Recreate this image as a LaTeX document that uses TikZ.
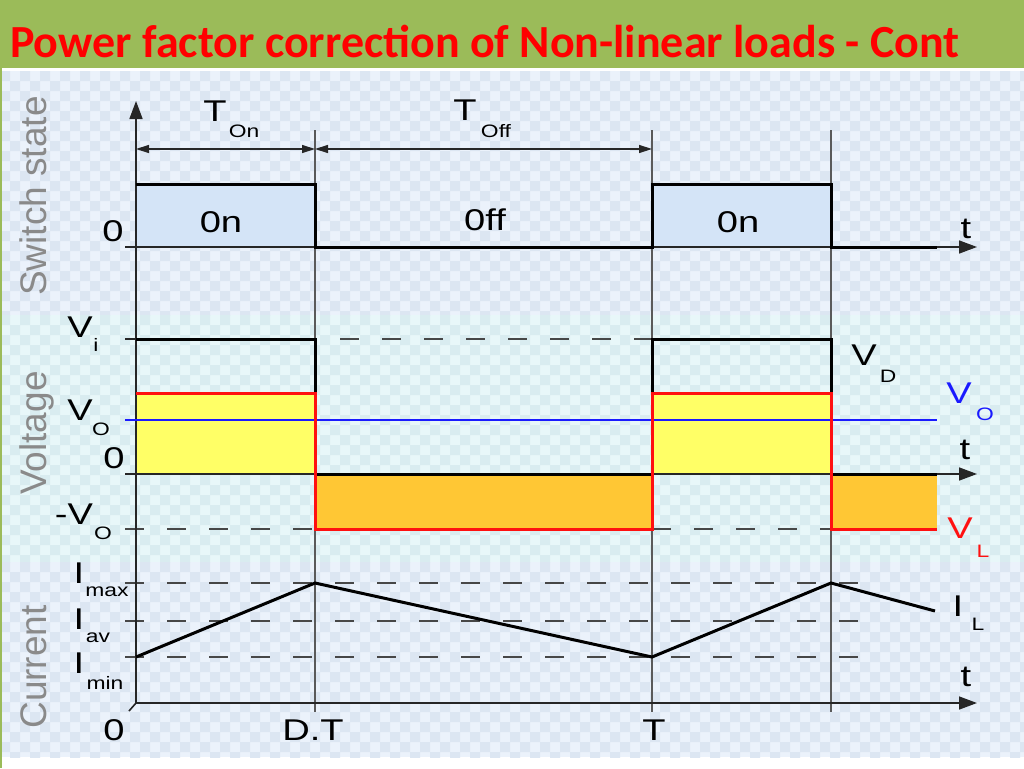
\documentclass[tikz,border=0pt]{standalone}
\usepackage{fontspec}
\setmainfont{Liberation Sans}
\newfontfamily\titlefont{Carlito}
\usetikzlibrary{arrows.meta}
\newcommand{\hstr}[1]{\scalebox{1.27}[1]{#1}}
\definecolor{barGreen}{HTML}{9BBB59}
\definecolor{titleRed}{HTML}{FF0000}
\definecolor{bandA}{HTML}{EBF2FB}
\definecolor{bandAalt}{HTML}{DCE6F2}
\definecolor{bandB}{HTML}{E8F7F9}
\definecolor{bandBalt}{HTML}{D9ECF0}
\definecolor{sideGray}{HTML}{8A8A8A}
\definecolor{onFill}{HTML}{D4E4F7}
\definecolor{yelFill}{HTML}{FFFF66}
\definecolor{orFill}{HTML}{FFC734}
\definecolor{sigRed}{HTML}{FF1010}
\definecolor{sigBlue}{HTML}{1A1AFF}
\definecolor{guideGray}{HTML}{5A5A5A}
\begin{document}
\begin{tikzpicture}[x=1pt,y=-1pt,
  lbl/.style={font=\fontsize{30}{30}\selectfont, inner sep=0pt},
  sublbl/.style={font=\fontsize{18}{18}\selectfont, inner sep=0pt},
  sidelbl/.style={font=\fontsize{37}{37}\selectfont, text=sideGray, rotate=90, anchor=base, inner sep=0pt},
  signal/.style={line width=3pt, black, line join=miter},
  redsig/.style={line width=3pt, sigRed, line join=miter},
  axisln/.style={line width=1.6pt, black!85},
  guideln/.style={line width=1.2pt, guideGray},
  dashln/.style={line width=2pt, black!72, dash pattern=on 19pt off 23pt},
  axtip/.style={-{Triangle[length=18pt,width=13pt]}},
  dimln/.style={line width=1.4pt, black!85, {Triangle[length=13pt,width=8pt]}-{Triangle[length=13pt,width=8pt]}}
]
\useasboundingbox (0,0) rectangle (1024,768);
% backgrounds
\fill[white] (0,0) rectangle (1024,768);
\fill[barGreen] (0,0) rectangle (1024,68);
\fill[barGreen] (0,68) rectangle (2,768);
\fill[bandA] (2,71) rectangle (1024,315);
\fill[bandB] (2,315) rectangle (1024,562);
\fill[bandA] (2,562) rectangle (1024,757);
\begin{scope}
  \clip (2,71) rectangle (1024,315);
  \fill[bandAalt] foreach \j in {0,...,24} { foreach \i in {0,...,51} { ({\i*20+mod(\j,2)*10},{71+\j*10}) rectangle ++(10,10) } };
\end{scope}
\begin{scope}
  \clip (2,315) rectangle (1024,562);
  \fill[bandBalt] foreach \j in {0,...,24} { foreach \i in {0,...,51} { ({\i*20+mod(\j,2)*10},{315+\j*10}) rectangle ++(10,10) } };
\end{scope}
\begin{scope}
  \clip (2,562) rectangle (1024,757);
  \fill[bandAalt] foreach \j in {0,...,19} { foreach \i in {0,...,51} { ({\i*20+mod(\j,2)*10},{562+\j*10}) rectangle ++(10,10) } };
\end{scope}
% title
\node[font=\titlefont\bfseries\fontsize{46}{46}\selectfont, text=titleRed, anchor=base west, inner sep=0pt] (title) at (10,58) {Power factor correction of Non-linear loads - Cont};
% coordinates
\coordinate (g1t) at (315,130); \coordinate (g1b) at (315,712);
\coordinate (g2t) at (652,130); \coordinate (g2b) at (652,712);
\coordinate (g3t) at (831,130); \coordinate (g3b) at (831,712);
\coordinate (orig) at (136,703);
\coordinate (ytip) at (136,101);
% guide lines
\draw[guideln] (g1t) -- (g1b);
\draw[guideln] (g2t) -- (g2b);
\draw[guideln] (g3t) -- (g3b);
% fills
\fill[onFill] (136,184) rectangle (315,247);
\fill[onFill] (652,184) rectangle (831,247);
\fill[yelFill] (136,393) rectangle (315,474);
\fill[yelFill] (652,393) rectangle (831,474);
\fill[orFill] (315,474) rectangle (652,529);
\fill[orFill] (831,474) rectangle (937,529);
% dashed reference lines
\draw[dashln] (340,339) -- (652,339);
\draw[dashln] (125,529) -- (315,529);
\draw[dashln] (652,529) -- (831,529);
\draw[dashln] (125,583) -- (875,583);
\draw[dashln] (125,621) -- (875,621);
\draw[dashln] (125,657) -- (875,657);
% dimension arrows
\coordinate (d0) at (136,149); \coordinate (d1) at (315,149); \coordinate (d2) at (652,149);
\draw[dimln] (d0) -- (d1);
\draw[dimln] (d1) -- (d2);
% axes
\draw[axisln, axtip] (orig) -- (ytip);
\draw[axisln, axtip] (125,247) -- (977,247);
\draw[axisln, axtip] (125,474) -- (977,474);
\draw[axisln, axtip] (orig) -- (977,703);
\draw[axisln] (orig) -- (129,711);
\draw[axisln] (125,339) -- (136,339);
% blue Vo
\draw[line width=2pt, sigBlue] (125,420) -- (937,420);
% switch signal
\draw[signal] (136,184) -- (315,184) -- (315,247) -- (652,247) -- (652,184) -- (831,184) -- (831,247) -- (937,247);
% VD
\draw[signal] (136,339) -- (315,339) -- (315,474) -- (652,474) -- (652,339) -- (831,339) -- (831,474) -- (937,474);
% VL
\draw[redsig] (136,393) -- (315,393) -- (315,529) -- (652,529) -- (652,393) -- (831,393) -- (831,529) -- (937,529);
% IL
\draw[signal] (136,657) -- (315,583) -- (652,657) -- (831,583) -- (935,611);
% side labels
\node[sidelbl] (sw) at (46,196) {Switch state};
\node[sidelbl] (vol) at (46,433) {Voltage};
\node[sidelbl] (cur) at (46,667) {Current};
% switch labels
\node[lbl] (ton) at (215,111) {\hstr{T}};
\node[sublbl] (tons) at (244,131) {\hstr{On}};
\node[lbl] (toff) at (465,110) {\hstr{T}};
\node[sublbl] (toffs) at (496,131) {\hstr{Off}};
\node[lbl] (on1) at (221,222) {\hstr{0n}};
\node[lbl] (off1) at (485,220) {\hstr{0ff}};
\node[lbl] (on2) at (738,222) {\hstr{0n}};
\node[lbl] (z1) at (113,231) {\hstr{0}};
\node[lbl] (t1) at (966,229) {\hstr{t}};
% voltage labels
\node[lbl] (vi) at (80,327) {\hstr{V}};
\node[sublbl] (vis) at (96,345) {\hstr{i}};
\node[lbl] (vo) at (80,410) {\hstr{V}};
\node[sublbl] (vos) at (101,429) {\hstr{O}};
\node[lbl] (z2) at (114,458) {\hstr{0}};
\node[lbl] (mvo) at (74,514) {\hstr{-V}};
\node[sublbl] (mvos) at (103,533) {\hstr{O}};
\node[lbl] (vd) at (864,355) {\hstr{V}};
\node[sublbl] (vds) at (888,376) {\hstr{D}};
\node[lbl, text=sigBlue] (vob) at (959,393) {\hstr{V}};
\node[sublbl, text=sigBlue] (vobs) at (985,414) {\hstr{O}};
\node[lbl] (t2) at (965,450) {\hstr{t}};
\node[lbl, text=sigRed] (vl) at (960,528) {\hstr{V}};
\node[sublbl, text=sigRed] (vls) at (983,551) {\hstr{L}};
% current labels
\node[lbl] (imax) at (79,573) {\hstr{I}};
\node[sublbl] (imaxs) at (107,592) {\hstr{max}};
\node[lbl] (iav) at (79,619) {\hstr{I}};
\node[sublbl] (iavs) at (98,638) {\hstr{av}};
\node[lbl] (imin) at (79,663) {\hstr{I}};
\node[sublbl] (imins) at (105,683) {\hstr{min}};
\node[lbl] (z3) at (114,730) {\hstr{0}};
\node[lbl] (dt) at (313,730) {\hstr{D.T}};
\node[lbl] (tT) at (654,730) {\hstr{T}};
\node[lbl] (t3) at (966,677) {\hstr{t}};
\node[lbl] (il) at (958,606) {\hstr{I}};
\node[sublbl] (ils) at (978,624) {\hstr{L}};
\end{tikzpicture}
\end{document}
